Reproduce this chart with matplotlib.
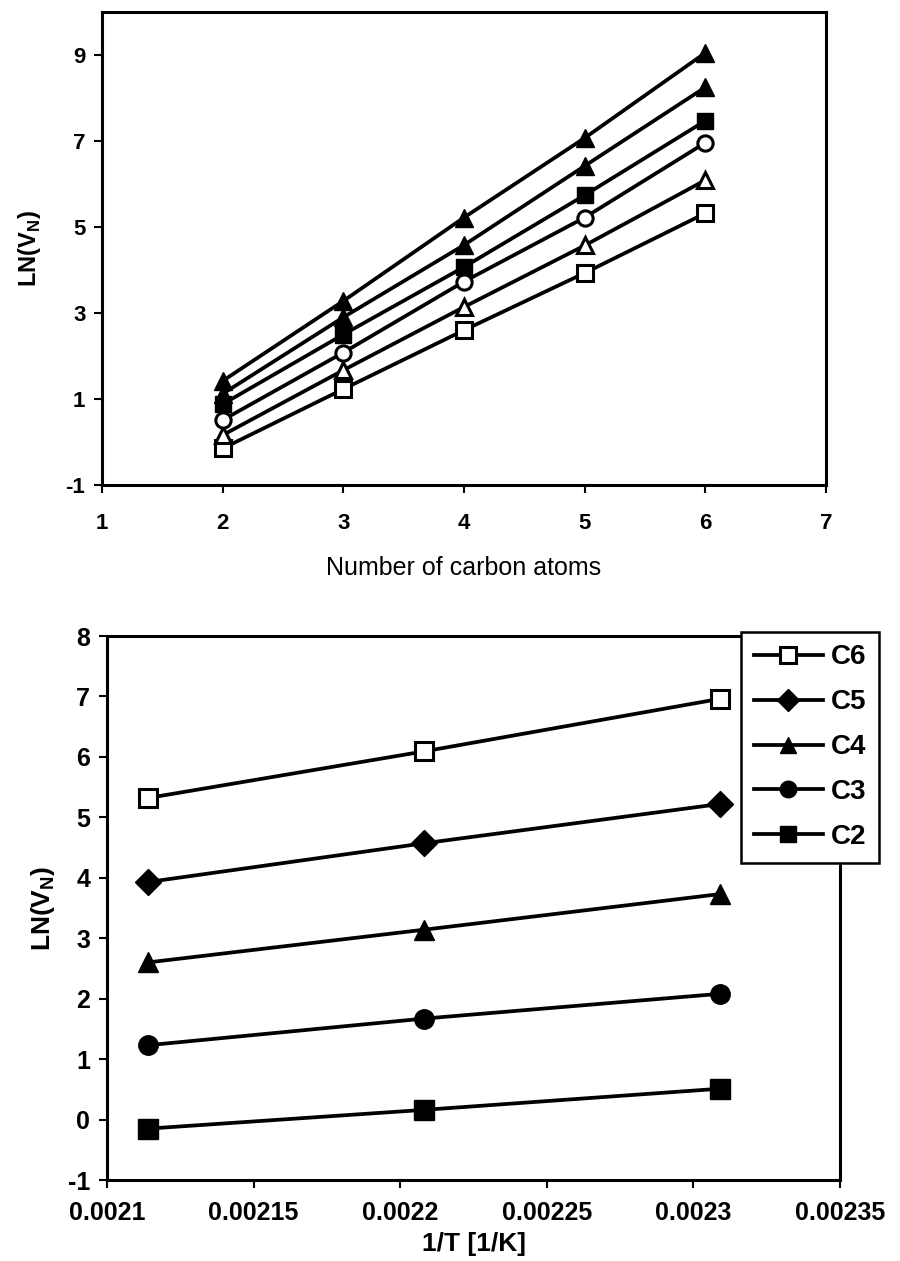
import numpy as np
import matplotlib
matplotlib.use("Agg")
import matplotlib.pyplot as plt

plt.rcParams['font.family'] = ['Liberation Sans', 'DejaVu Sans']
plt.rcParams['mathtext.fontset'] = 'custom'
plt.rcParams['mathtext.rm'] = 'Liberation Sans'
plt.rcParams['mathtext.bf'] = 'Liberation Sans:bold'
plt.rcParams['axes.unicode_minus'] = False

# ln(Vn) against carbon number, one series per column temperature
carbons = [2, 3, 4, 5, 6]
ln_open_square = [-0.15, 1.23, 2.60, 3.93, 5.32]
ln_open_triangle = [0.16, 1.67, 3.14, 4.57, 6.09]
ln_open_circle = [0.51, 2.08, 3.73, 5.22, 6.96]
ln_filled_square = [0.88, 2.50, 4.07, 5.74, 7.47]
ln_filled_triangle_lo = [1.12, 2.90, 4.58, 6.42, 8.25]
ln_filled_triangle_hi = [1.42, 3.28, 5.22, 7.07, 9.05]

# ln(Vn) against 1/T for each n-alkane
inv_T = [0.002114, 0.002208, 0.002309]
ln_c6 = [5.32, 6.09, 6.96]
ln_c5 = [3.93, 4.57, 5.22]
ln_c4 = [2.60, 3.14, 3.73]
ln_c3 = [1.23, 1.67, 2.08]
ln_c2 = [-0.15, 0.16, 0.51]

x_ticks_bottom = [0.0021, 0.00215, 0.0022, 0.00225, 0.0023, 0.00235]
x_ticklabels_bottom = ['0.0021', '0.00215', '0.0022', '0.00225', '0.0023', '0.00235']

W, H = 900, 1261
fig = plt.figure(figsize=(W / 100, H / 100), dpi=100)


def px_axes(left, top, right, bottom):
    return fig.add_axes([left / W, 1 - bottom / H, (right - left) / W, (bottom - top) / H])


def style_axes(ax, size):
    for s in ax.spines.values():
        s.set_linewidth(2.2)
        s.set_color('black')
    ax.tick_params(direction='out', length=6, width=1.5, labelsize=size, pad=6,
                   top=False, right=False)
    for lab in ax.get_xticklabels() + ax.get_yticklabels():
        lab.set_fontweight('bold')


lw = 2.7
mew = 2.2

# ---- top panel
ax1 = px_axes(102, 12, 826, 485)
ax1.plot(carbons, ln_open_square, '-s', color='k', lw=lw, ms=11, mfc='white', mec='k', mew=mew)
ax1.plot(carbons, ln_open_triangle, '-^', color='k', lw=lw, ms=11, mfc='white', mec='k', mew=mew)
ax1.plot(carbons, ln_open_circle, '-o', color='k', lw=lw, ms=11, mfc='white', mec='k', mew=mew)
ax1.plot(carbons, ln_filled_square, '-s', color='k', lw=lw, ms=12, mfc='k', mec='k')
ax1.plot(carbons, ln_filled_triangle_lo, '-^', color='k', lw=lw, ms=13, mfc='k', mec='k')
ax1.plot(carbons, ln_filled_triangle_hi, '-^', color='k', lw=lw, ms=13, mfc='k', mec='k')
ax1.set_xlim(1, 7)
ax1.set_ylim(-1, 10)
ax1.set_xticks(range(1, 8))
ax1.set_yticks([-1, 1, 3, 5, 7, 9])
style_axes(ax1, 16)
ax1.tick_params(axis='x', pad=14)
ax1.set_xlabel('Number of carbon atoms', fontsize=18, labelpad=16)
ax1.set_ylabel(r'LN(V$_\mathbf{N}$)', fontsize=17, fontweight='bold', labelpad=16)

# ---- bottom panel
ax2 = px_axes(107, 636, 840, 1180)
ax2.plot(inv_T, ln_c6, '-s', color='k', lw=lw, ms=13, mfc='white', mec='k', mew=mew, label='C6')
ax2.plot(inv_T, ln_c5, '-D', color='k', lw=lw, ms=13, mfc='k', mec='k', label='C5')
ax2.plot(inv_T, ln_c4, '-^', color='k', lw=lw, ms=14, mfc='k', mec='k', label='C4')
ax2.plot(inv_T, ln_c3, '-o', color='k', lw=lw, ms=14, mfc='k', mec='k', label='C3')
ax2.plot(inv_T, ln_c2, '-s', color='k', lw=lw, ms=14, mfc='k', mec='k', label='C2')
ax2.set_xlim(0.0021, 0.00235)
ax2.set_ylim(-1, 8)
ax2.set_xticks(x_ticks_bottom)
ax2.set_xticklabels(x_ticklabels_bottom)
ax2.set_yticks(range(-1, 9))
style_axes(ax2, 18)
ax2.tick_params(axis='x', pad=9)
ax2.set_xlabel('1/T [1/K]', fontsize=19, fontweight='bold', labelpad=5)
ax2.set_ylabel(r'LN(V$_\mathbf{N}$)', fontsize=19, fontweight='bold', labelpad=8)

leg = ax2.legend(loc='upper left', bbox_to_anchor=((741 - 107) / (840 - 107), 1 + 4 / 544),
                 frameon=True, fancybox=False, framealpha=1, edgecolor='k',
                 prop={'weight': 'bold', 'size': 20}, handlelength=2.5, markerscale=0.85,
                 handletextpad=0.3, borderpad=0.45, labelspacing=0.68, borderaxespad=0)
leg.get_frame().set_linewidth(1.8)

fig.savefig('out.png', dpi=100)
